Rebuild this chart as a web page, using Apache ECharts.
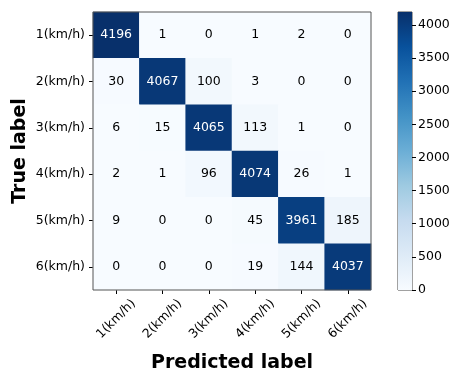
<!DOCTYPE html>
<html><head><meta charset="utf-8">
<script src="https://cdn.jsdelivr.net/npm/echarts@6/dist/echarts.min.js"></script>
<style>html,body{margin:0;padding:0;background:#fff}#c{width:455px;height:370px}</style>
</head><body><div id="c"></div>
<script>
var categories = ['1(km/h)','2(km/h)','3(km/h)','4(km/h)','5(km/h)','6(km/h)'];
var row1 = [4196, 1, 0, 1, 2, 0];
var row2 = [30, 4067, 100, 3, 0, 0];
var row3 = [6, 15, 4065, 113, 1, 0];
var row4 = [2, 1, 96, 4074, 26, 1];
var row5 = [9, 0, 0, 45, 3961, 185];
var row6 = [0, 0, 0, 19, 144, 4037];
var colorbarTicks = [0, 500, 1000, 1500, 2000, 2500, 3000, 3500, 4000];

var rows = [row1, row2, row3, row4, row5, row6];
var vmax = 0;
rows.forEach(function(r){ r.forEach(function(v){ if (v > vmax) vmax = v; }); });
var blues = ['#f7fbff','#deebf7','#c6dbef','#9ecae1','#6baed6','#4292c6','#2171b5','#08519c','#08306b'];
var data = [];
rows.forEach(function(r, i){
  r.forEach(function(v, j){
    data.push({ value: [j, i, v], label: { color: v > vmax / 2 ? '#ffffff' : '#000000' } });
  });
});
var font = 'DejaVu Sans';
var stops = blues.map(function(c, i){ return { offset: i / (blues.length - 1), color: c }; });

var chart = echarts.init(document.getElementById('c'), null, { renderer: 'canvas' });
chart.setOption({
  animation: false,
  backgroundColor: '#ffffff',
  textStyle: { fontFamily: font },
  grid: [
    { left: 93, top: 12, width: 278, height: 278, show: true, borderColor: '#555', borderWidth: 1, backgroundColor: 'transparent', z: 10, containLabel: false, outerBoundsMode: 'none' },
    { left: 398, top: 12, width: 14, height: 278, show: true, borderColor: '#444', borderWidth: 1, backgroundColor: 'transparent', containLabel: false, outerBoundsMode: 'none' }
  ],
  graphic: [
    { type: 'text', x: 20, y: 151, rotation: Math.PI / 2,
      style: { text: 'True label', font: 'bold 19px "DejaVu Sans"', fill: '#000', align: 'center', verticalAlign: 'middle' } }
  ],
  xAxis: [
    { type: 'category', gridIndex: 0, data: categories, position: 'bottom',
      axisLine: { show: false }, splitLine: { show: false },
      axisTick: { show: true, alignWithLabel: true, length: 4, lineStyle: { color: '#000' } },
      axisLabel: { rotate: 45, fontSize: 12.5, color: '#000', fontFamily: font, margin: 29, align: 'center', verticalAlign: 'middle' },
      name: 'Predicted label', nameLocation: 'middle', nameGap: 64,
      nameTextStyle: { fontSize: 19, fontWeight: 'bold', color: '#000', fontFamily: font } },
    { type: 'category', gridIndex: 1, data: [''], show: false }
  ],
  yAxis: [
    { type: 'category', gridIndex: 0, data: categories, inverse: true,
      axisLine: { show: false }, splitLine: { show: false },
      axisTick: { show: true, alignWithLabel: true, length: 4, lineStyle: { color: '#000' } },
      axisLabel: { fontSize: 12.5, color: '#000', fontFamily: font, margin: 8 } },
    { type: 'value', gridIndex: 1, position: 'right', min: 0, max: vmax, interval: 500,
      axisLine: { show: false }, splitLine: { show: false },
      axisTick: { show: true, length: 4, lineStyle: { color: '#000' } },
      axisLabel: { fontSize: 12.5, color: '#000', fontFamily: font, margin: 6, showMaxLabel: false,
        formatter: function(v){ return colorbarTicks.indexOf(v) >= 0 ? String(v) : ''; } } }
  ],
  visualMap: { show: false, min: 0, max: vmax, seriesIndex: 0, inRange: { color: blues } },
  series: [
    { type: 'heatmap', xAxisIndex: 0, yAxisIndex: 0, data: data,
      label: { show: true, fontSize: 12.5, fontFamily: font, formatter: function(p){ return p.value[2]; } },
      itemStyle: { borderWidth: 0 } },
    { type: 'bar', xAxisIndex: 1, yAxisIndex: 1, data: [vmax], barWidth: '100%', silent: true,
      itemStyle: { color: new echarts.graphic.LinearGradient(0, 1, 0, 0, stops) } }
  ]
});
</script></body></html>
